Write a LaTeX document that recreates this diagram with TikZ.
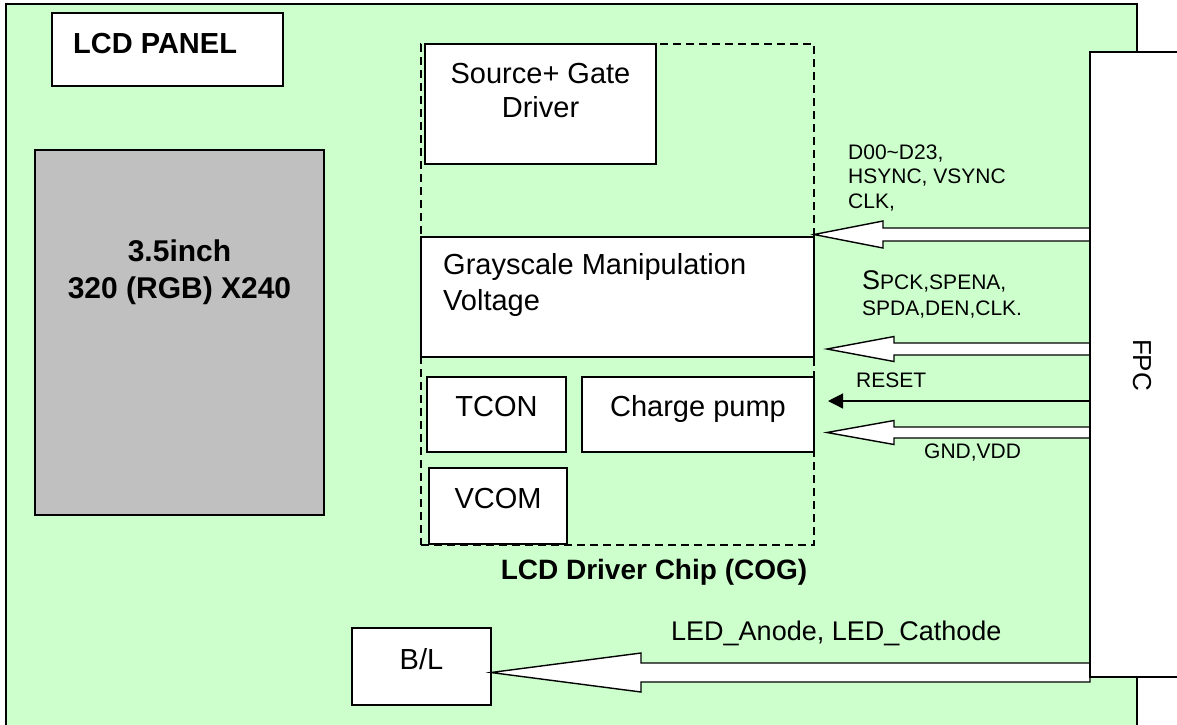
\documentclass[tikz,border=0pt]{standalone}
\usepackage{fontspec}
\setmainfont{Liberation Sans}
\usetikzlibrary{arrows.meta}
\definecolor{panelgreen}{RGB}{204,255,204}
\definecolor{screengrey}{RGB}{192,192,192}
\newcommand\fatarrow[6]{% tail x, tip x, y, shaft half, head half, head length
  \draw[fatline] (#1,#3-#4) -- (#2+#6,#3-#4) -- (#2+#6,#3-#5) -- (#2,#3) -- (#2+#6,#3+#5) -- (#2+#6,#3+#4) -- (#1,#3+#4) -- cycle;}
\begin{document}
\begin{tikzpicture}[x=1pt,y=-1pt,
  box/.style={draw, line width=1.6pt, fill=white, inner sep=0pt, outer sep=0pt},
  chipbox/.style={draw, line width=1.4pt, dash pattern=on 8pt off 5pt, inner sep=0pt, outer sep=0pt},
  fatline/.style={draw, fill=white, line width=1.4pt, line join=miter},
  big/.style={inner sep=0pt, font=\fontsize{29}{34}\selectfont},
  bigb/.style={inner sep=0pt, font=\fontsize{29}{34}\selectfont\bfseries},
  small/.style={inner sep=0pt, font=\fontsize{21}{25}\selectfont},
  mid/.style={inner sep=0pt, font=\fontsize{27}{32}\selectfont}]
\useasboundingbox (0,0) rectangle (1177,724);
% panel
\fill[panelgreen] (6,4) rectangle (1137,740);
\draw[line width=2pt] (6,740) -- (6,4) -- (1137,4) -- (1137,740);
% boxes
\node[box, minimum width=231pt, minimum height=73pt] (panelbox) at (167.5,49.5) {};
\node[box, fill=screengrey, line width=1.4pt, minimum width=289pt, minimum height=365pt] (screen) at (179.5,332.5) {};
\node[chipbox, minimum width=393pt, minimum height=501pt] (chip) at (617.5,294.5) {};
\node[box, minimum width=231pt, minimum height=120pt] (src) at (540.5,104) {};
\node[box, minimum width=393pt, minimum height=120pt] (gray) at (617.5,297) {};
\node[box, minimum width=139pt, minimum height=75pt] (tcon) at (496.5,414.5) {};
\node[box, minimum width=232pt, minimum height=75pt] (cpump) at (698,414.5) {};
\node[box, minimum width=138pt, minimum height=76pt] (vcom) at (498,506) {};
\node[box, minimum width=139pt, minimum height=77pt] (bl) at (421.5,666.5) {};
% arrows
\fatarrow{1090}{814}{234.5}{6.5}{13.5}{69}
\fatarrow{1090}{827}{349}{6}{12.5}{67}
\fatarrow{1090}{827}{432.5}{5.5}{12}{67}
\fatarrow{1090}{491}{672.5}{9.5}{19.5}{150}
\coordinate (rstail) at (1093,401);
\coordinate (rstip) at (828,401);
\draw[line width=1.3pt, -{Triangle[length=15pt,width=15pt]}] (rstail) -- (rstip);
% FPC
\node[box, line width=1.8pt, minimum width=110pt, minimum height=625pt] (fpc) at (1145,364.5) {};
% texts
\node[bigb, anchor=base west] (tpanel) at (73,53) {LCD PANEL};
\node[inner sep=0pt, font=\fontsize{30}{34}\selectfont\bfseries, anchor=base] (tscr1) at (179.5,261) {3.5inch};
\node[inner sep=0pt, font=\fontsize{30}{34}\selectfont\bfseries, anchor=base] (tscr2) at (179.5,298) {320 (RGB) X240};
\node[big, anchor=base] (tsrc1) at (540.5,83) {Source+ Gate};
\node[big, anchor=base] (tsrc2) at (540.5,117) {Driver};
\node[big, anchor=base west] (tgray1) at (443,274) {Grayscale Manipulation};
\node[big, anchor=base west] (tgray2) at (443,310) {Voltage};
\node[big, anchor=base] (ttcon) at (496.5,416) {TCON};
\node[big, anchor=base] (tcp) at (698,416) {Charge pump};
\node[big, anchor=base] (tvcom) at (498,508) {VCOM};
\node[inner sep=0pt, font=\fontsize{28}{32}\selectfont\bfseries, anchor=base] (tchip) at (654,579) {LCD Driver Chip (COG)};
\node[big, anchor=base] (tbl) at (421.5,669) {B/L};
\node[mid, anchor=base west] (tled) at (671,640) {LED\_Anode, LED\_Cathode};
\node[small, anchor=base west] (td1) at (848,159) {D00\textasciitilde D23,};
\node[small, anchor=base west] (td2) at (848,183) {HSYNC, VSYNC};
\node[small, anchor=base west] (td3) at (848,208) {CLK,};
\node[small, anchor=base west] (ts1) at (862,289) {{\fontsize{27}{30}\selectfont S}PCK,SPENA,};
\node[small, anchor=base west] (ts2) at (862,315) {SPDA,DEN,CLK.};
\node[small, anchor=base west] (trst) at (856,387) {RESET};
\node[small, anchor=base west] (tgnd) at (924,458) {GND,VDD};
\node[inner sep=0pt, font=\fontsize{26}{30}\selectfont, rotate=-90] (tfpc) at (1142,365) {FPC};
\end{tikzpicture}
\end{document}
